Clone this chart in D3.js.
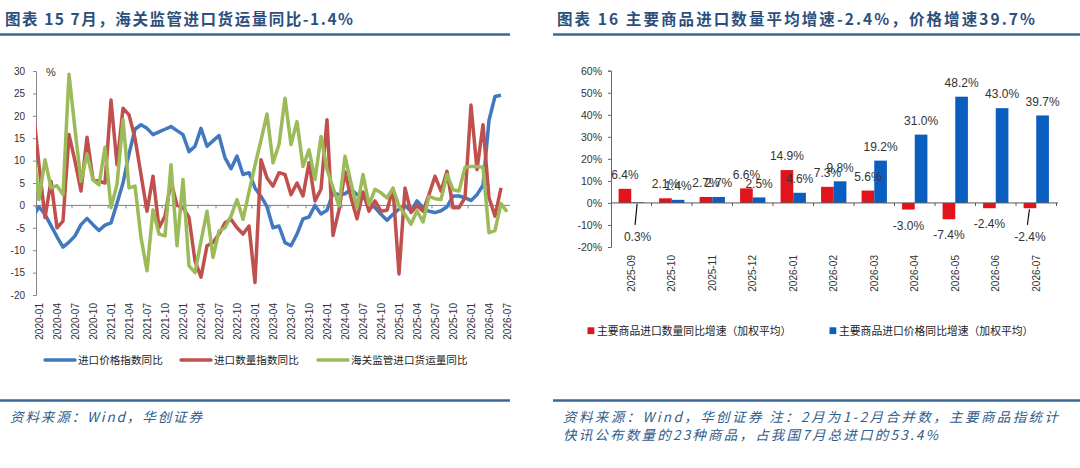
<!DOCTYPE html>
<html>
<head>
<meta charset="utf-8">
<script src="https://cdn.jsdelivr.net/npm/d3@7"></script>
<style>
  body { margin: 0; background: #fff; }
  svg { display: block; }
  text { font-family: "Liberation Sans", Arial, sans-serif; }
  .cjk { font-family: "Noto Sans CJK SC", sans-serif; }
</style>
</head>
<body>
<svg id="chart" width="1080" height="468"></svg>
<script>
// ---- left chart data (monthly, yoy %) ----
const months = [
  "2019-12",
  "2020-01","2020-02","2020-03","2020-04","2020-05","2020-06","2020-07","2020-08","2020-09","2020-10","2020-11","2020-12",
  "2021-01","2021-02","2021-03","2021-04","2021-05","2021-06","2021-07","2021-08","2021-09","2021-10","2021-11","2021-12",
  "2022-01","2022-02","2022-03","2022-04","2022-05","2022-06","2022-07","2022-08","2022-09","2022-10","2022-11","2022-12",
  "2023-01","2023-02","2023-03","2023-04","2023-05","2023-06","2023-07","2023-08","2023-09","2023-10","2023-11","2023-12",
  "2024-01","2024-02","2024-03","2024-04","2024-05","2024-06","2024-07","2024-08","2024-09","2024-10","2024-11","2024-12",
  "2025-01","2025-02","2025-03","2025-04","2025-05","2025-06","2025-07","2025-08","2025-09","2025-10","2025-11","2025-12",
  "2026-01","2026-02","2026-03","2026-04","2026-05","2026-06","2026-07"
];
const tickMonths = [
  "2020-01","2020-04","2020-07","2020-10","2021-01","2021-04","2021-07","2021-10",
  "2022-01","2022-04","2022-07","2022-10","2023-01","2023-04","2023-07","2023-10",
  "2024-01","2024-04","2024-07","2024-10","2025-01","2025-04","2025-07","2025-10",
  "2026-01","2026-04","2026-07"
];
const yTicksLeft = [-20, -15, -10, -5, 0, 5, 10, 15, 20, 25, 30];

// 进口价格指数同比
const importPrice = [
  -2.5,
  -0.3, -2, -4.5, -7, -9.3, -8.2, -6.8, -4.3, -2.9, -4.3, -5.6, -4.4,
  -3.9, 0.5, 5, 11.5, 17, 18, 17.2, 15.8, 16.4, 17, 17.6, 16.7,
  15.8, 12, 13.2, 17.2, 13.2, 14.4, 15.6, 10.6, 8.2, 11, 6.9, 7.3,
  3.9, 2, -0.3, -5, -4.6, -8.3, -9, -6.4, -3, -2.6, 0, -1.9,
  -1.1, 2.8, 2.4, 2.6, 3.6, 2.4, 1.9, 0.4, -0.5, -2, -3.3, -2,
  -0.8, 0, -1.3, 1, -0.5, -1.3, -1.6, -1.2, -0.3, 2.1, 2.1, 1.7,
  1.1, 2.4, 4.5, 19, 24.3, 24.6, null
];
// 进口数量指数同比
const importQty = [
  22,
  9, -2.7, 5.4, -5, -3.5, 15.8, 9.9, 3.2, 15.2, 5.8, 5.4, 5,
  23.5, 9.1, 21.7, 20.2, 15, 6.9, -1.3, 6.5, -5, -2.4, 5.4, 0,
  -0.5, -2.7, -12.4, -16, -9, -8.3, -6.4, -3.9, -3.1, -5, -6.4, -4.6,
  -17.2, 10.2, 6.1, 4.3, 7.3, 6.9, 2.4, 5, 2.1, 9.5, 1, 3.6,
  19.1, -6.7, -1, 7.5, 1.7, -3, 3, -1.3, 1, -1.3, -1.1, 3.8,
  -15.3, 3.9, -1.6, 0, -1.3, 2.4, 6.5, 3.2, 7.6, -0.5, -0.5, 1.7,
  22.4, 8, 18, 1.7, -2.4, 3.9, null
];
// 海关监管进口货运量同比
const cargoVolume = [
  12.7,
  1.3, 10.2, 3.9, 4.4, 2.4, 29.3, 17, 5.4, 11.5, 5.7, 4.6, 13,
  -0.5, 4.7, 19.1, 3.9, 4.3, -7.2, -14.6, -1, -6.4, -6.8, 9.1, -9,
  5.8, -13.5, -15, -8, -1.3, -11.6, -5.7, -5, -2.4, 1.3, -3.1, 3,
  9, 14.5, 20.4, 9.5, 13.6, 23.9, 13.6, 18.7, 8.7, 12.4, 5.8, 15.4,
  8, 4, -0.1, 11, 5, -0.5, 6.9, 0.2, 3.6, 2.8, 1.7, 3.8,
  -0.2, -2, -4.2, -1.2, -3.7, 2, 1.5, 1.3, 6.9, 3.5, 3.2, 8.5,
  8.7, 8.7, 8.5, -6.1, -5.6, 0.4, -1.4
];
const lineNames = ["进口价格指数同比", "进口数量指数同比", "海关监管进口货运量同比"];
const lineColors = ["#4278C0", "#C0504D", "#9BBB59"];

// ---- right chart data ----
const barMonths = ["2025-09","2025-10","2025-11","2025-12","2026-01","2026-02","2026-03","2026-04","2026-05","2026-06","2026-07"];
const qtyGrowth   = [6.4, 2.1, 2.7, 6.6, 14.9, 7.3, 5.6, -3.0, -7.4, -2.4, -2.4];
const priceGrowth = [0.3, 1.4, 2.7, 2.5, 4.6, 9.8, 19.2, 31.0, 48.2, 43.0, 39.7];
const yTicksRight = [-20, -10, 0, 10, 20, 30, 40, 50, 60];
const barNames = ["主要商品进口数量同比增速（加权平均）", "主要商品进口价格同比增速（加权平均）"];
const barColors = ["#E3131B", "#0A5EC0"];

const titleLeft = "图表 15 7月，海关监管进口货运量同比-1.4%";
const titleRight = "图表 16 主要商品进口数量平均增速-2.4%，价格增速39.7%";
const sourceLeft = "资料来源：Wind，华创证券";
const sourceRight = [
  "资料来源：Wind，华创证券 注：2月为1-2月合并数，主要商品指统计",
  "快讯公布数量的23种商品，占我国7月总进口的53.4%"
];

const svg = d3.select("#chart");
const headColor = "#2C4F7C";
const ruleColor = "#3D6894";

// ---- titles and source notes ----
function fitText(sel, w) {
  sel.attr("textLength", w).attr("lengthAdjust", "spacing");
}
svg.append("text").attr("class", "cjk").attr("x", 5).attr("y", 24.5)
  .attr("font-size", 15.5).attr("font-weight", "bold").attr("fill", headColor)
  .text(titleLeft).call(fitText, 348);
svg.append("text").attr("class", "cjk").attr("x", 557).attr("y", 24.5)
  .attr("font-size", 15.5).attr("font-weight", "bold").attr("fill", headColor)
  .text(titleRight).call(fitText, 478);

[[0, 510], [553, 1080]].forEach(([a, b]) => {
  svg.append("line").attr("x1", a).attr("x2", b).attr("y1", 34.5).attr("y2", 34.5)
    .attr("stroke", ruleColor).attr("stroke-width", 2.5);
  svg.append("line").attr("x1", a).attr("x2", b).attr("y1", 400.5).attr("y2", 400.5)
    .attr("stroke", ruleColor).attr("stroke-width", 2.5);
});

svg.append("text").attr("class", "cjk").attr("x", 10).attr("y", 422)
  .attr("font-size", 13.5).attr("font-style", "italic").attr("fill", "#2F5D8C")
  .text(sourceLeft).call(fitText, 192);
svg.append("text").attr("class", "cjk").attr("x", 563).attr("y", 422)
  .attr("font-size", 13.5).attr("font-style", "italic").attr("fill", "#2F5D8C")
  .text(sourceRight[0]).call(fitText, 495);
svg.append("text").attr("class", "cjk").attr("x", 563).attr("y", 440)
  .attr("font-size", 13.5).attr("font-style", "italic").attr("fill", "#2F5D8C")
  .text(sourceRight[1]).call(fitText, 375);

// ================= left: line chart =================
const L = {x0: 36, x1: 510, top: 71, bottom: 295};
const step = (L.x1 - L.x0) / (months.length - 1);
const x1 = d3.scaleBand().domain(months).range([L.x0 - step, L.x1]);
const y1 = d3.scaleLinear().domain([-20, 30]).range([L.bottom, L.top]);
const cx = m => x1(m) + x1.bandwidth() / 2;

const yAxisL = svg.append("g").attr("transform", `translate(${L.x0},0)`)
  .call(d3.axisLeft(y1).tickValues(yTicksLeft).tickSize(3).tickPadding(8).tickFormat(d => String(d)));
yAxisL.selectAll("path, line").attr("stroke", "#8a8a8a");
yAxisL.selectAll("text").attr("font-size", 10).attr("fill", "#333");

svg.append("text").attr("x", 46).attr("y", 76).attr("font-size", 11).attr("fill", "#333").text("%");

// zero line with month ticks
svg.append("line").attr("x1", L.x0).attr("x2", L.x1).attr("y1", y1(0)).attr("y2", y1(0))
  .attr("stroke", "#7f7f7f").attr("stroke-width", 1);
svg.append("g").selectAll("line").data(tickMonths).join("line")
  .attr("x1", d => x1(d)).attr("x2", d => x1(d))
  .attr("y1", y1(0)).attr("y2", y1(0) + 3)
  .attr("stroke", "#7f7f7f");

const xAxisL = svg.append("g").attr("transform", `translate(0,${L.bottom})`)
  .call(d3.axisBottom(x1).tickValues(tickMonths).tickSize(0));
xAxisL.select(".domain").remove();
xAxisL.selectAll("text")
  .attr("transform", "rotate(-90)").attr("text-anchor", "end")
  .attr("x", -8).attr("y", 0).attr("dy", "0.35em")
  .attr("font-size", 10).attr("fill", "#333");

svg.append("clipPath").attr("id", "plotL").append("rect")
  .attr("x", L.x0).attr("y", 40).attr("width", L.x1 - L.x0 + 4).attr("height", 280);

const line = d3.line()
  .defined(d => d != null)
  .x((d, i) => cx(months[i]))
  .y(d => y1(d));

const plotL = svg.append("g").attr("clip-path", "url(#plotL)");
[importPrice, importQty, cargoVolume].forEach((s, k) => {
  plotL.append("path").datum(s)
    .attr("d", line)
    .attr("fill", "none")
    .attr("stroke", lineColors[k])
    .attr("stroke-width", 3.5)
    .attr("stroke-linejoin", "round");
});

// legend
const legLX = [45, 181, 318];
lineNames.forEach((n, k) => {
  svg.append("line").attr("x1", legLX[k]).attr("x2", legLX[k] + 30)
    .attr("y1", 360).attr("y2", 360)
    .attr("stroke", lineColors[k]).attr("stroke-width", 3.5).attr("stroke-linecap", "round");
  svg.append("text").attr("class", "cjk").attr("x", legLX[k] + 33).attr("y", 364)
    .attr("font-size", 10.6).attr("fill", "#222").text(n);
});

// ================= right: bar chart =================
const R = {x0: 611, x1: 1056.5, top: 70.7, bottom: 247};
const x2 = d3.scaleBand().domain(barMonths).range([R.x0, R.x1]);
const sub = d3.scaleBand().domain([0, 1]).range([0, x2.bandwidth()]).paddingOuter(0.6);
const y2 = d3.scaleLinear().domain([-20, 60]).range([R.bottom, R.top]);

const yAxisR = svg.append("g").attr("transform", `translate(${R.x0},0)`)
  .call(d3.axisLeft(y2).tickValues(yTicksRight).tickSize(3).tickPadding(6).tickFormat(d => d + "%"));
yAxisR.selectAll("path, line").attr("stroke", "#666");
yAxisR.selectAll("text").attr("font-size", 10.5).attr("fill", "#333");

const barSeries = [qtyGrowth, priceGrowth];
barSeries.forEach((vals, k) => {
  svg.append("g").selectAll("rect").data(vals).join("rect")
    .attr("x", (d, i) => x2(barMonths[i]) + sub(k))
    .attr("width", sub.bandwidth())
    .attr("y", d => y2(Math.max(0, d)))
    .attr("height", d => Math.abs(y2(d) - y2(0)))
    .attr("fill", barColors[k]);
});

// zero axis with category boundary ticks
svg.append("line").attr("x1", R.x0).attr("x2", R.x1 + 1.5).attr("y1", y2(0)).attr("y2", y2(0))
  .attr("stroke", "#555");
svg.append("g").selectAll("line").data(barMonths).join("line")
  .attr("x1", d => x2(d) + x2.bandwidth())
  .attr("x2", d => x2(d) + x2.bandwidth())
  .attr("y1", y2(0)).attr("y2", y2(0) + 3)
  .attr("stroke", "#555");

const xAxisR = svg.append("g").attr("transform", `translate(0,${R.bottom})`)
  .call(d3.axisBottom(x2).tickSize(0));
xAxisR.select(".domain").remove();
xAxisR.selectAll("text")
  .attr("transform", "rotate(-90)").attr("text-anchor", "end")
  .attr("x", -8).attr("y", 0).attr("dy", "0.35em")
  .attr("font-size", 10).attr("fill", "#333");

// value labels (two small ones are pushed below the axis with a leader line)
const callouts = [[1, "2025-09"], [0, "2026-07"]];
barSeries.forEach((vals, k) => {
  vals.forEach((v, i) => {
    const m = barMonths[i];
    const bx = x2(m) + sub(k) + sub.bandwidth() / 2;
    const moved = callouts.some(c => c[0] === k && c[1] === m);
    let ty;
    if (moved) {
      ty = y2(0) + 34;
      svg.append("line")
        .attr("x1", bx - 0.5).attr("y1", y2(Math.min(0, v)) + 1)
        .attr("x2", bx - 2.5).attr("y2", ty - 12)
        .attr("stroke", "#111").attr("stroke-width", 1.2);
    } else {
      ty = v >= 0 ? y2(v) - 14 : y2(v) + 16;
    }
    svg.append("text").attr("x", bx).attr("y", ty).attr("dy", "0.35em")
      .attr("text-anchor", "middle").attr("font-size", 12).attr("fill", "#333")
      .text(v.toFixed(1) + "%");
  });
});

// legend
const legRX = [587.5, 829.5];
barNames.forEach((n, k) => {
  svg.append("rect").attr("x", legRX[k]).attr("y", 327.3).attr("width", 6.8).attr("height", 6.8)
    .attr("fill", barColors[k]);
  svg.append("text").attr("class", "cjk").attr("x", legRX[k] + 9.5).attr("y", 334.7)
    .attr("font-size", 10.8).attr("fill", "#222").text(n);
});
</script>
</body>
</html>
